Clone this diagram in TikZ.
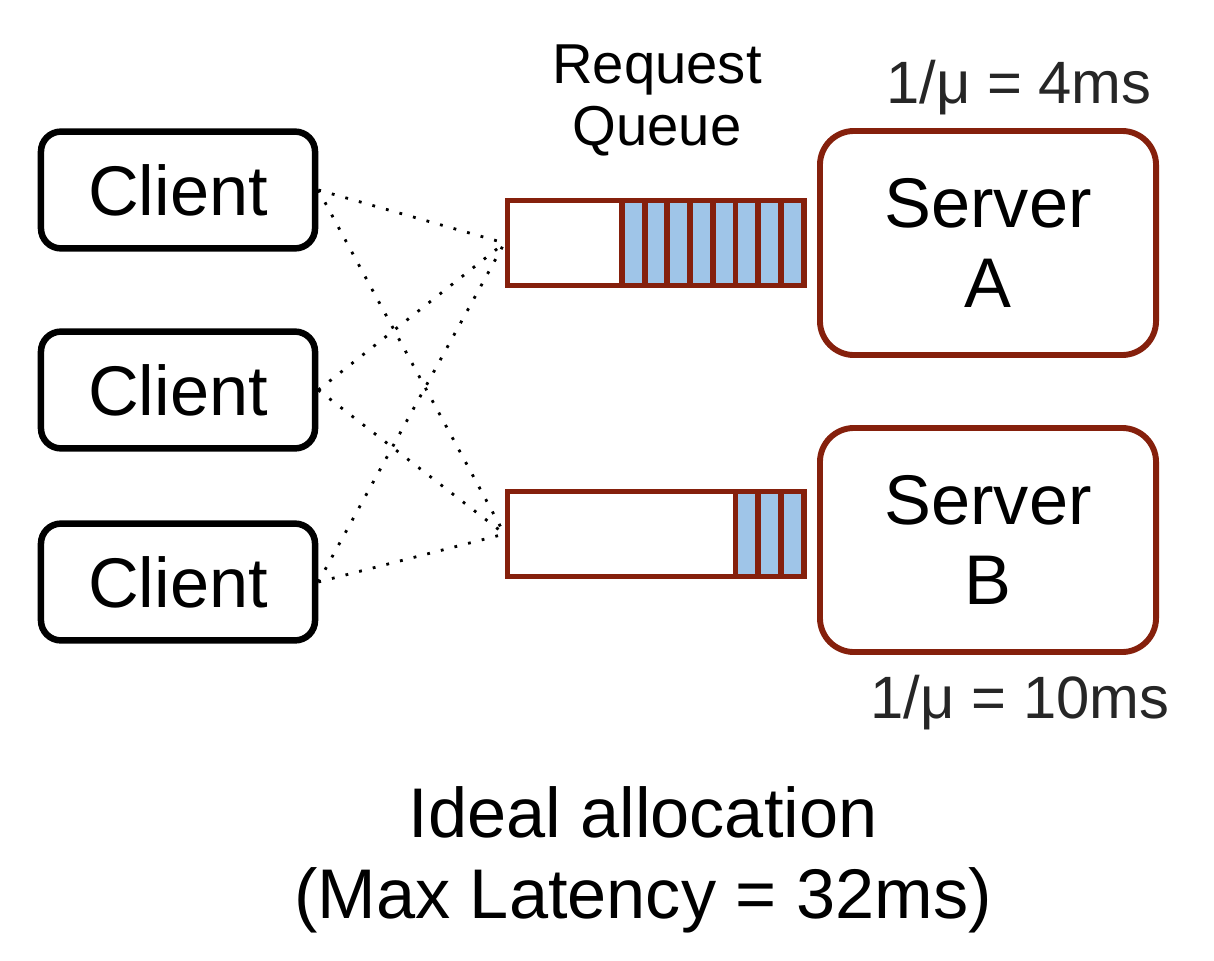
\documentclass[tikz,border=0pt]{standalone}
\usepackage{fontspec}
\setmainfont{Liberation Sans}
\usepackage{xcolor}
\usetikzlibrary{positioning}
\definecolor{qred}{HTML}{85200C}
\definecolor{slotblue}{HTML}{9FC5E8}

\begin{document}
\begin{tikzpicture}[x=0.025cm, y=-0.025cm,
    client/.style={draw, line width=4.6pt, rounded corners=0.5cm,
        minimum width=6.85cm, minimum height=2.92cm, inner sep=0pt,
        font=\fontsize{50}{57}\selectfont},
    server/.style={draw=qred, line width=4.2pt, rounded corners=0.85cm,
        minimum width=8.4cm, minimum height=5.6cm, inner sep=0pt, align=center,
        font=\fontsize{50}{57}\selectfont},
    queue/.style={draw=qred, line width=4.2pt, minimum width=7.4cm,
        minimum height=2.125cm, inner sep=0pt},
    rate/.style={anchor=base, text=black!85, font=\fontsize{42.5}{46}\selectfont},
    link/.style={line width=2pt, dash pattern=on 2pt off 8pt}]
    \useasboundingbox (0,0) rectangle (1214,960);

    % clients
    \node[client] (client1) at (178,190) {Client};
    \node[client] (client2) at (178,390) {Client};
    \node[client] (client3) at (178,582) {Client};

    % servers
    \node[server] (serverA) at (988,243) {Server\\A};
    \node[server] (serverB) at (988,540) {Server\\B};

    % queues with waiting requests
    \node[queue] (queueA) at (655.5,243) {};
    \node[queue] (queueB) at (655.5,534) {};
    \foreach \i in {0,...,7}
        \draw[qred, line width=4.2pt, fill=slotblue]
            (622+\i*22.7,200.5) rectangle (644.7+\i*22.7,285.5);
    \foreach \i in {0,1,2}
        \draw[qred, line width=4.2pt, fill=slotblue]
            (735.5+\i*22.7,491.5) rectangle (758.2+\i*22.7,576.5);

    % labels
    \node[anchor=base, align=center, font=\fontsize{40}{44}\selectfont] (qlabel) at (657,145) {Request\\Queue};
    \node[rate] (rateA) at (1019,103) {1/μ = 4ms};
    \node[rate] (rateB) at (1020,718) {1/μ = 10ms};
    \node[anchor=base, align=center, font=\fontsize{50}{57.5}\selectfont] (caption) at (643,918)
        {Ideal allocation\\(Max Latency = 32ms)};

    % every client may send to either queue
    \foreach \c in {client1,client2,client3} {
        \draw[link] (\c.east) -- (queueA.west);
        \draw[link] (\c.east) -- (queueB.west);
    }
\end{tikzpicture}
\end{document}
